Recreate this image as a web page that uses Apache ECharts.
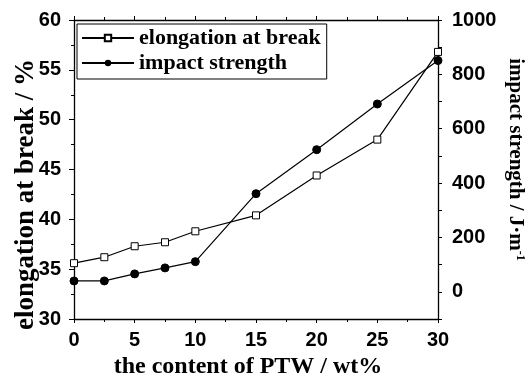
<!DOCTYPE html>
<html><head><meta charset="utf-8">
<script src="https://cdn.jsdelivr.net/npm/echarts@6/dist/echarts.min.js"></script>
<style>html,body{margin:0;padding:0;background:#fff}#c{width:531px;height:376px}</style>
</head><body><div id="c"></div>
<script>
var ptw = [0, 2.5, 5, 7.5, 10, 15, 20, 25, 30];
var elongation = [35.6, 36.2, 37.3, 37.7, 38.8, 40.4, 44.4, 48.0, 56.8];
var impact = [40, 40, 66, 88, 111, 361, 523, 691, 851];
var seriesNames = ['elongation at break', 'impact strength'];

var chart = echarts.init(document.getElementById('c'));
var tickFont = {fontFamily: 'Liberation Sans', fontWeight: 'bold', fontSize: 20, color: '#000'};
var serif = 'Liberation Serif';
var axLine = {show: true, onZero: false, lineStyle: {color: '#000', width: 1.3}};
chart.setOption({
  animation: false,
  grid: {left: 74, right: 93, top: 20, bottom: 57, containLabel: false, outerBoundsMode: 'none'},
  legend: {
    orient: 'vertical', left: 77, top: 24, padding: [3, 6, 5, 4],
    borderColor: '#000', borderWidth: 1, itemWidth: 52, itemHeight: 8, itemGap: 3,
    textStyle: {fontFamily: serif, fontWeight: 'bold', fontSize: 22, color: '#000'},
    data: seriesNames
  },
  xAxis: [{
    type: 'value', min: 0, max: 30, interval: 5,
    name: 'the content of PTW / wt%', nameLocation: 'middle', nameGap: 35,
    nameTextStyle: {fontFamily: serif, fontWeight: 'bold', fontSize: 24, color: '#000', padding: [0, 16, 0, 0]},
    axisLine: axLine, axisTick: {show: true, length: 4, lineStyle: {color: '#000'}},
    minorTick: {show: true, splitNumber: 2, length: 3, lineStyle: {color: '#000'}},
    axisLabel: Object.assign({margin: 11}, tickFont), splitLine: {show: false}
  }, {
    type: 'value', position: 'top', min: 0, max: 30, interval: 5,
    axisLine: axLine, axisTick: {show: true, length: 4, lineStyle: {color: '#000'}},
    minorTick: {show: true, splitNumber: 2, length: 3, lineStyle: {color: '#000'}},
    axisLabel: {show: false}, splitLine: {show: false}
  }],
  yAxis: [{
    type: 'value', min: 30, max: 60, interval: 5,
    name: 'elongation at break / %', nameLocation: 'middle', nameGap: 34, nameMoveOverlap: false,
    nameTextStyle: {fontFamily: serif, fontWeight: 'bold', fontSize: 27, color: '#000', padding: [0, 50, 0, 0]},
    axisLine: axLine, axisTick: {show: true, length: 5, lineStyle: {color: '#000'}},
    minorTick: {show: true, splitNumber: 2, length: 3, lineStyle: {color: '#000'}},
    axisLabel: Object.assign({margin: 13}, tickFont), splitLine: {show: false}
  }, {
    type: 'value', position: 'right', min: -100, max: 1000, interval: 100,
    name: 'impact strength / J·m{sup|-1}', nameLocation: 'middle', nameGap: 66, nameRotate: -90, nameMoveOverlap: false,
    nameTextStyle: {fontFamily: serif, fontWeight: 'bold', fontSize: 21, color: '#000', padding: [0, 20, 0, 0],
      rich: {sup: {fontFamily: serif, fontWeight: 'bold', fontSize: 12, verticalAlign: 'top', padding: [0, 0, 10, 0]}}},
    axisLine: axLine, axisTick: {show: true, length: 4, lineStyle: {color: '#000'}},
    axisLabel: Object.assign({margin: 14, formatter: function (v) { return (v >= 0 && v % 200 === 0) ? String(v) : ''; }}, tickFont),
    splitLine: {show: false}
  }],
  series: [{
    name: seriesNames[0], type: 'line', xAxisIndex: 0, yAxisIndex: 0,
    data: ptw.map(function (x, i) { return [x, elongation[i]]; }),
    symbol: 'rect', symbolSize: 7,
    itemStyle: {color: '#fff', borderColor: '#000', borderWidth: 1},
    lineStyle: {color: '#000', width: 1.2}, z: 3
  }, {
    name: seriesNames[1], type: 'line', xAxisIndex: 0, yAxisIndex: 1,
    data: ptw.map(function (x, i) { return [x, impact[i]]; }),
    symbol: 'circle', symbolSize: 8,
    itemStyle: {color: '#000', borderColor: '#000'},
    lineStyle: {color: '#000', width: 1.2}, z: 3
  }]
});
</script></body></html>
